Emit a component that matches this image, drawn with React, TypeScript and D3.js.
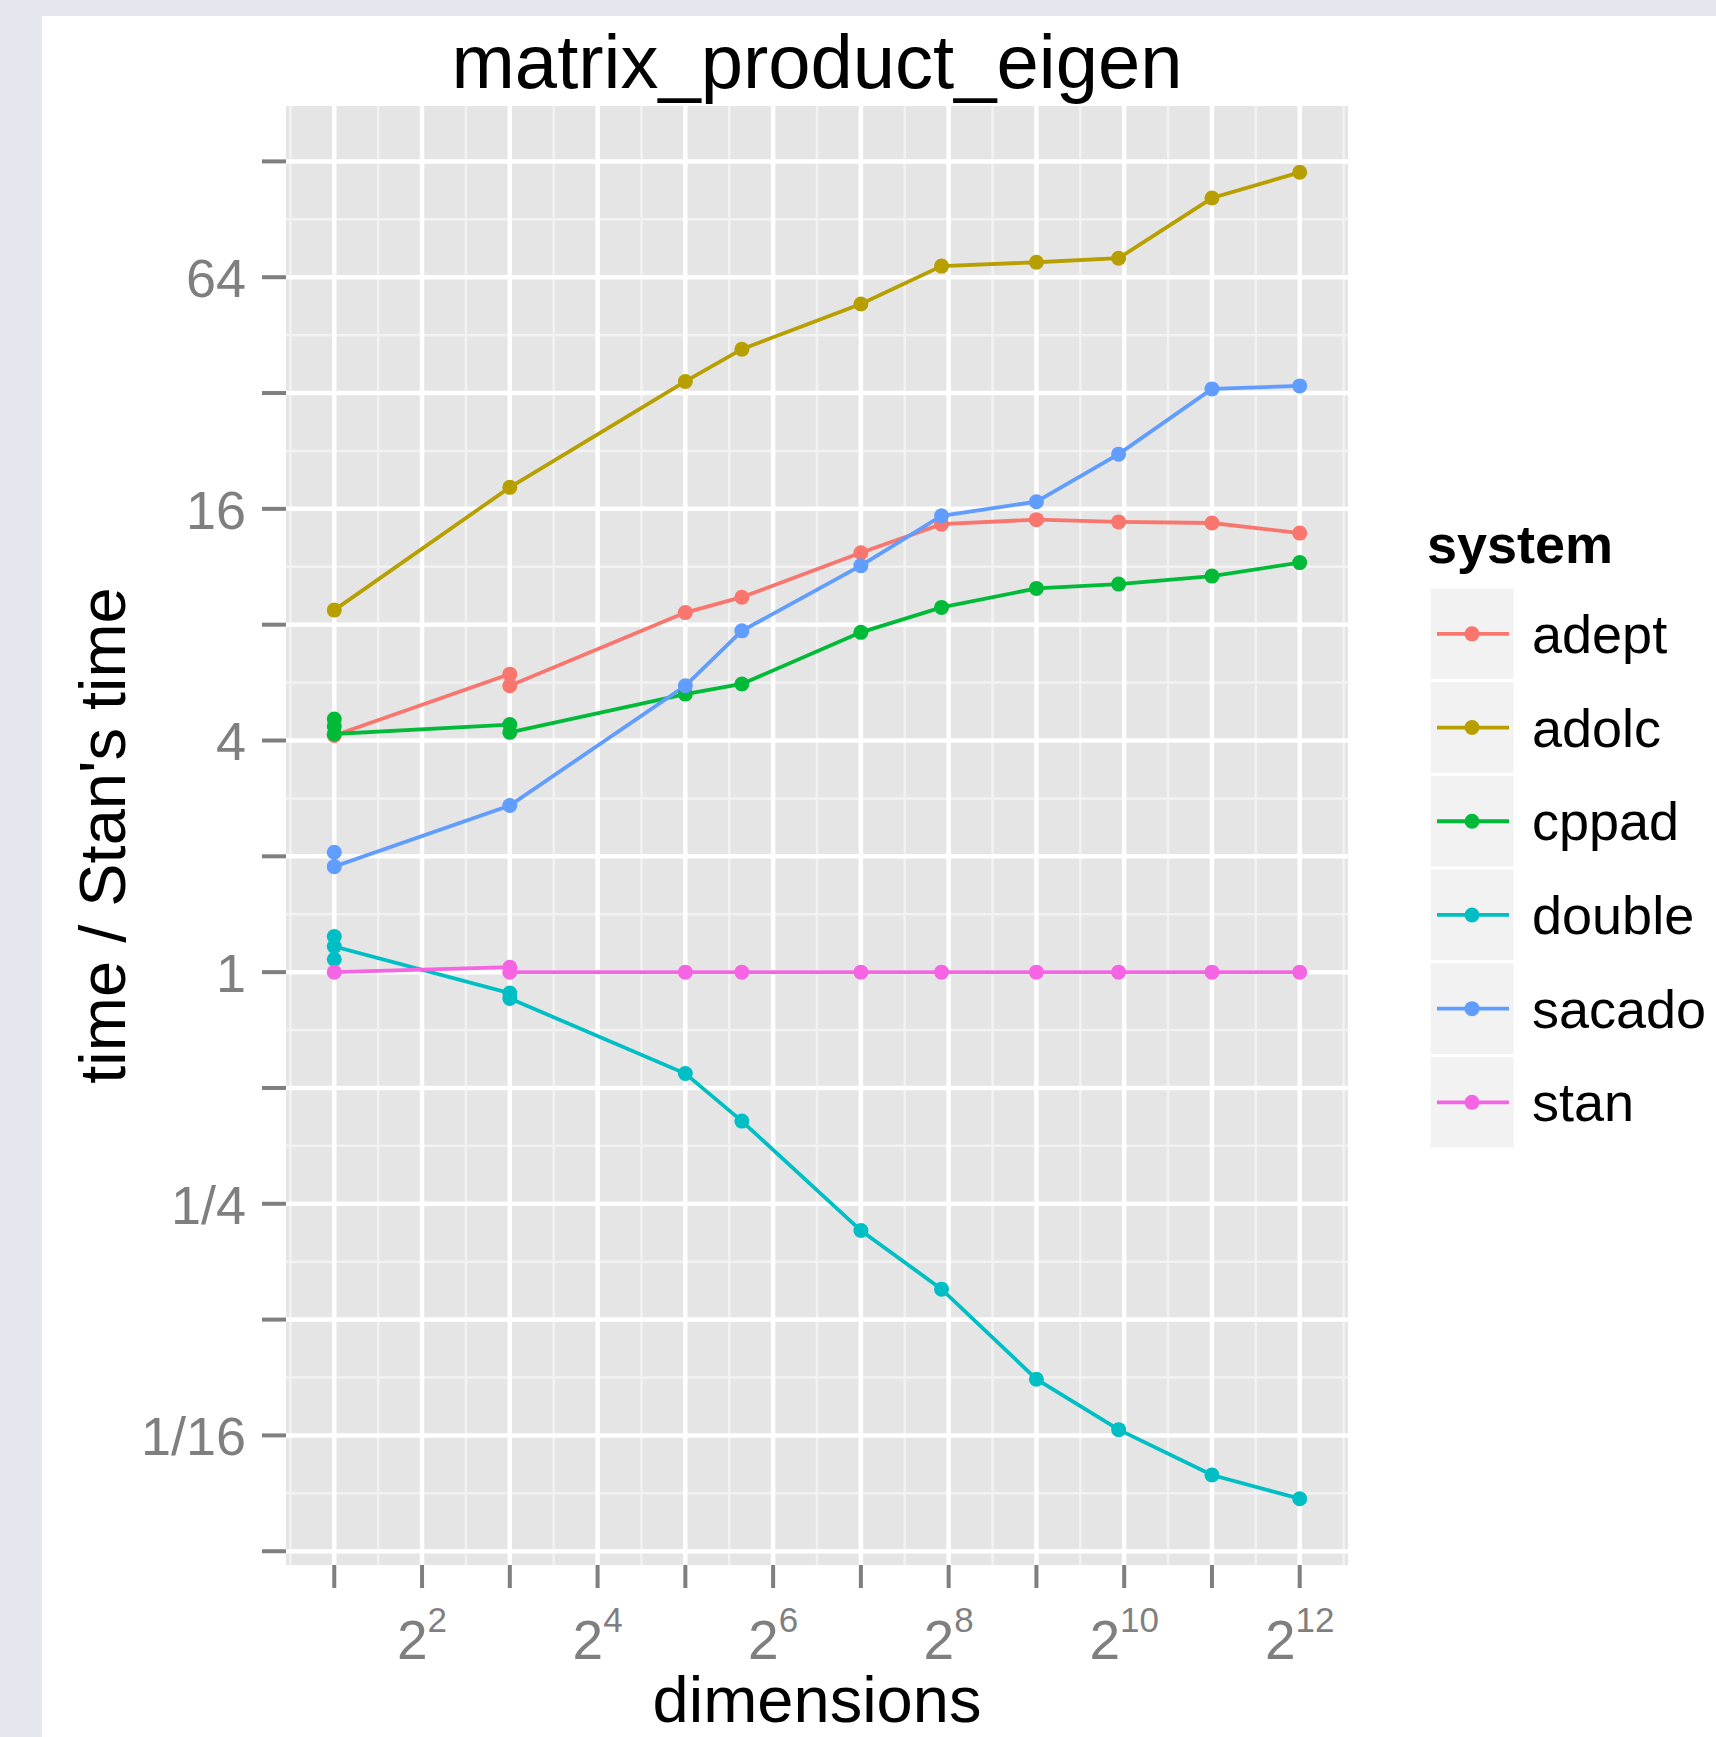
import React from "react";
import * as d3 from "d3";

// matrix sizes on the x axis
const dims = [2, 8, 32, 50, 128, 242, 512, 980, 2048, 4096];

// time / stan's time, one list of runs per entry of dims
const adept = [[4.12], [5.95, 5.55], [8.6], [9.43], [12.3], [14.6], [15.0], [14.8], [14.7], [13.84]];
const adolc = [[8.73], [18.2], [34.3], [41.6], [54.5], [68.4], [70.0], [71.7], [102.8], [119.9]];
const cppad = [[4.55, 4.35, 4.16], [4.4, 4.2], [5.28], [5.61], [7.64], [8.87], [9.94], [10.2], [10.7], [11.6]];
const double = [[1.238, 1.08, 1.166], [0.882, 0.854], [0.545], [0.41], [0.213], [0.15], [0.0875], [0.0647], [0.0493], [0.0428]];
const sacado = [[2.05, 1.88], [2.71], [5.55], [7.71], [11.39], [15.35], [16.7], [22.2], [32.8], [33.4]];
const stan = [[1.0], [1.03, 1.0], [1], [1], [1], [1], [1], [1], [1], [1]];

const systems = ["adept", "adolc", "cppad", "double", "sacado", "stan"];
const runs = [adept, adolc, cppad, double, sacado, stan];
const colors = ["#F8766D", "#B79F00", "#00BA38", "#00BFC4", "#619CFF", "#F564E3"];

const xTickExps = d3.range(1, 13);
const yTickExps = d3.range(-5, 8);

const W = 1716;
const H = 1737;
const left = 286;
const right = 1348;
const top = 106;
const bottom = 1565;
const font = "'Liberation Sans', Arial, Helvetica, sans-serif";
const grey = "#7F7F7F";
const lineW = 3.8;
const dotR = 7.5;

// ggplot style 5% padding on a log2 scale
function padded(lo: number, hi: number) {
  const a = Math.log2(lo);
  const b = Math.log2(hi);
  const p = (b - a) * 0.05;
  return [2 ** (a - p), 2 ** (b + p)];
}

export default function App() {
  const series = systems.map((name, i) => ({
    name,
    color: colors[i],
    pts: dims.flatMap((d, j) => runs[i][j].map((v) => [d, v] as [number, number])),
  }));
  const allVals = series.flatMap((s) => s.pts.map((p) => p[1]));

  const x = d3.scaleLog().base(2).domain(padded(d3.min(dims)!, d3.max(dims)!)).range([left, right]);
  const y = d3.scaleLog().base(2).domain(padded(d3.min(allVals)!, d3.max(allVals)!)).range([bottom, top]);

  const line = d3
    .line<[number, number]>()
    .x((d) => x(d[0]))
    .y((d) => y(d[1]));

  const xLo = Math.log2(x.domain()[0]);
  const xHi = Math.log2(x.domain()[1]);
  const yLo = Math.log2(y.domain()[0]);
  const yHi = Math.log2(y.domain()[1]);
  const xMinor = d3.range(Math.ceil(xLo - 0.5) + 0.5, xHi, 1);
  const yMinor = d3.range(Math.ceil(yLo - 0.5) + 0.5, yHi, 1);

  const yLabel = (k: number) => (k >= 0 ? String(2 ** k) : "1/" + 2 ** -k);

  const keyTop = 587;
  const keyH = 93.7;

  return (
    <svg width={W} height={H} style={{ position: "absolute", left: 0, top: 0 }} fontFamily={font}>
      <rect width={W} height={H} fill="#E6E6EF" />
      <rect x={42} y={16} width={W - 42} height={H - 16} fill="#FFFFFF" />
      <text x={(left + right) / 2} y={88} fontSize={76} textAnchor="middle" fill="#000">
        matrix_product_eigen
      </text>

      <rect x={left} y={top} width={right - left} height={bottom - top} fill="#E5E5E5" />
      {yMinor.map((k) => (
        <line key={"ym" + k} x1={left} x2={right} y1={y(2 ** k)} y2={y(2 ** k)} stroke="#F2F2F2" strokeWidth={2.5} />
      ))}
      {xMinor.map((k) => (
        <line key={"xm" + k} y1={top} y2={bottom} x1={x(2 ** k)} x2={x(2 ** k)} stroke="#F2F2F2" strokeWidth={2.5} />
      ))}
      {yTickExps.map((k) => (
        <line key={"yg" + k} x1={left} x2={right} y1={y(2 ** k)} y2={y(2 ** k)} stroke="#FFFFFF" strokeWidth={4.5} />
      ))}
      {xTickExps.map((k) => (
        <line key={"xg" + k} y1={top} y2={bottom} x1={x(2 ** k)} x2={x(2 ** k)} stroke="#FFFFFF" strokeWidth={4.5} />
      ))}

      {series.map((s) => (
        <path key={"l" + s.name} d={line(s.pts) || ""} fill="none" stroke={s.color} strokeWidth={lineW} />
      ))}
      {series.flatMap((s) =>
        s.pts.map((p, i) => <circle key={s.name + i} cx={x(p[0])} cy={y(p[1])} r={dotR} fill={s.color} />)
      )}

      {yTickExps.map((k) => (
        <g key={"yt" + k}>
          <line x1={left - 24} x2={left} y1={y(2 ** k)} y2={y(2 ** k)} stroke={grey} strokeWidth={4} />
          {k % 2 === 0 && (
            <text x={left - 40} y={y(2 ** k) + 20} fontSize={54} fill={grey} textAnchor="end">
              {yLabel(k)}
            </text>
          )}
        </g>
      ))}
      {xTickExps.map((k) => (
        <g key={"xt" + k}>
          <line x1={x(2 ** k)} x2={x(2 ** k)} y1={bottom} y2={bottom + 23} stroke={grey} strokeWidth={4} />
          {k % 2 === 0 && (
            <text x={x(2 ** k)} y={1659} fontSize={55} fill={grey} textAnchor="middle">
              2
              <tspan dy={-27} fontSize={35}>
                {k}
              </tspan>
            </text>
          )}
        </g>
      ))}

      <text x={(left + right) / 2} y={1722} fontSize={65} textAnchor="middle" fill="#000">
        dimensions
      </text>
      <text
        transform={`translate(125,${(top + bottom) / 2}) rotate(-90)`}
        fontSize={65}
        textAnchor="middle"
        fill="#000"
      >
        time / Stan's time
      </text>

      <text x={1427} y={563} fontSize={54} fontWeight="bold" fill="#000">
        system
      </text>
      {series.map((s, i) => {
        const cy = keyTop + keyH * i + keyH / 2;
        return (
          <g key={"k" + s.name}>
            <rect x={1429} y={keyTop + keyH * i} width={86} height={keyH} fill="#F2F2F2" stroke="#FFFFFF" strokeWidth={3} />
            <line x1={1437} x2={1509} y1={cy} y2={cy} stroke={s.color} strokeWidth={lineW} />
            <circle cx={1472} cy={cy} r={dotR} fill={s.color} />
            <text x={1532} y={cy + 19} fontSize={54} fill="#000">
              {s.name}
            </text>
          </g>
        );
      })}
    </svg>
  );
}
